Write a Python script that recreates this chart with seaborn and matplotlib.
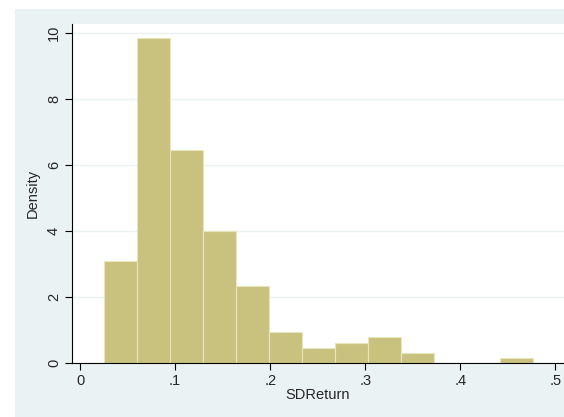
import numpy as np
import pandas as pd
import matplotlib
matplotlib.use("Agg")
import matplotlib.pyplot as plt
import seaborn as sns
from matplotlib.patches import Rectangle

# histogram: bin edges and density heights
bin_start = 0.0256
bin_width = 0.0347
n_bins = 13
density = [3.08, 9.85, 6.47, 4.00, 2.32, 0.93, 0.47, 0.62, 0.78, 0.31, 0.0, 0.0, 0.16]
x_ticks = [0, 0.1, 0.2, 0.3, 0.4, 0.5]
x_tick_labels = ["0", ".1", ".2", ".3", ".4", ".5"]
y_ticks = [0, 2, 4, 6, 8, 10]

edges = bin_start + bin_width * np.arange(n_bins + 1)
df = pd.DataFrame({"SDReturn": (edges[:-1] + edges[1:]) / 2, "density": density})

sns.set_style("white")
plt.rcParams["font.family"] = ["Liberation Sans", "DejaVu Sans"]

bg = "#EAF2F3"
fig = plt.figure(figsize=(5.64, 4.17), dpi=100)
fig.patches.append(Rectangle((15 / 564, 0), 1, (417 - 9) / 417,
                             transform=fig.transFigure, facecolor=bg,
                             edgecolor="none", zorder=-10))
ax = fig.add_axes([72 / 564, (417 - 363) / 417, 1 - 72 / 564, (363 - 24) / 417])
ax.set_facecolor("white")

sns.histplot(data=df, x="SDReturn", weights="density", bins=n_bins,
             binrange=(edges[0], edges[-1]), ax=ax,
             color="#C9C27E", alpha=1, edgecolor="#E8E4BC", linewidth=0.8)

ax.set_xlim(-0.0085, 0.509)
ax.set_ylim(0, 10.28)
ax.set_yticks(y_ticks)
ax.set_yticklabels([str(v) for v in y_ticks], rotation=90, va="center")
ax.set_xticks(x_ticks)
ax.set_xticklabels(x_tick_labels)
ax.yaxis.grid(True, color=bg, linewidth=1)
ax.set_axisbelow(True)
for s in ["top", "right"]:
    ax.spines[s].set_visible(False)
ax.spines["left"].set_color("black")
ax.spines["bottom"].set_color("black")
ax.tick_params(axis="both", direction="out", length=5, width=0.8,
               color="black", labelsize=10.5, pad=3, left=True, bottom=True)
ax.set_xlabel("SDReturn", fontsize=10.5, labelpad=0)
ax.set_ylabel("Density", fontsize=10.5, labelpad=5)

fig.savefig("out.png", dpi=100)
